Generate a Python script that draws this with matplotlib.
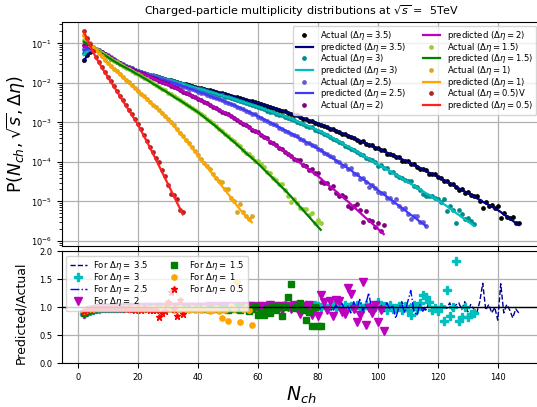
import numpy as np
import matplotlib
matplotlib.use('Agg')
import matplotlib.pyplot as plt

# ---------------- data (log10 of predicted probability, N_ch starting at 2) ----------------
n_start = 2
etas = [3.5, 3, 2.5, 2, 1.5, 1, 0.5]

pred_35 = [-1.46, -1.32, -1.24, -1.20, -1.19, -1.21, -1.25, -1.29, -1.34, -1.39, -1.44, -1.49, -1.53, -1.57, -1.60, -1.63, -1.66, -1.69, -1.71,
           -1.73, -1.76, -1.78, -1.80, -1.82, -1.84, -1.86, -1.88, -1.90, -1.92,
           -1.94, -1.96, -1.98, -2.00, -2.02, -2.04, -2.06, -2.08, -2.10, -2.12,
           -2.14, -2.16, -2.17, -2.19, -2.21, -2.23, -2.25, -2.27, -2.29, -2.31,
           -2.33, -2.35, -2.37, -2.39, -2.41, -2.43, -2.45, -2.47, -2.49, -2.51,
           -2.53, -2.56, -2.58, -2.61, -2.63, -2.65, -2.68, -2.70, -2.73, -2.75,
           -2.78, -2.81, -2.83, -2.86, -2.89, -2.92, -2.95, -2.97, -3.00, -3.03,
           -3.06, -3.09, -3.12, -3.15, -3.18, -3.21, -3.24, -3.27, -3.30, -3.33,
           -3.36, -3.40, -3.43, -3.46, -3.50, -3.53, -3.56, -3.59, -3.63, -3.66,
           -3.69, -3.73, -3.76, -3.80, -3.83, -3.86, -3.90, -3.93, -3.97, -4.00,
           -4.04, -4.08, -4.11, -4.15, -4.19, -4.23, -4.27, -4.30, -4.34, -4.38,
           -4.42, -4.46, -4.50, -4.54, -4.58, -4.63, -4.67, -4.71, -4.75, -4.79,
           -4.83, -4.88, -4.92, -4.96, -5.01, -5.05, -5.09, -5.13, -5.18, -5.22,
           -5.27, -5.33, -5.38, -5.44, -5.49, -5.55, -5.60]
pred_3 = [-1.30, -1.21, -1.16, -1.15, -1.16, -1.19, -1.23, -1.27, -1.32, -1.37, -1.42, -1.47, -1.51, -1.55, -1.58, -1.61, -1.64, -1.67, -1.70,
          -1.72, -1.75, -1.77, -1.79, -1.81, -1.83, -1.86, -1.88, -1.90, -1.92,
          -1.94, -1.96, -1.99, -2.01, -2.03, -2.05, -2.08, -2.10, -2.12, -2.14,
          -2.16, -2.18, -2.21, -2.23, -2.25, -2.27, -2.30, -2.32, -2.34, -2.36,
          -2.38, -2.41, -2.43, -2.46, -2.48, -2.51, -2.53, -2.56, -2.58, -2.61,
          -2.63, -2.66, -2.69, -2.71, -2.74, -2.77, -2.80, -2.82, -2.85, -2.88,
          -2.91, -2.94, -2.97, -3.00, -3.04, -3.07, -3.10, -3.13, -3.17, -3.20,
          -3.24, -3.28, -3.32, -3.36, -3.40, -3.44, -3.48, -3.52, -3.57, -3.61,
          -3.65, -3.70, -3.74, -3.79, -3.83, -3.88, -3.92, -3.97, -4.01, -4.06,
          -4.10, -4.15, -4.19, -4.24, -4.28, -4.33, -4.37, -4.42, -4.46, -4.51,
          -4.56, -4.60, -4.65, -4.69, -4.74, -4.79, -4.83, -4.88, -4.92, -4.97,
          -5.02, -5.07, -5.12, -5.18, -5.23, -5.29, -5.34, -5.40, -5.45, -5.51, -5.56, -5.62]
pred_25 = [-1.18, -1.14, -1.13, -1.14, -1.16, -1.19, -1.23, -1.27, -1.31, -1.36, -1.41, -1.46, -1.50, -1.54, -1.58, -1.61, -1.64, -1.67, -1.70,
           -1.73, -1.75, -1.78, -1.81, -1.83, -1.86, -1.88, -1.91, -1.93, -1.96,
           -1.98, -2.01, -2.03, -2.06, -2.09, -2.11, -2.14, -2.16, -2.19, -2.22,
           -2.25, -2.27, -2.30, -2.33, -2.36, -2.39, -2.41, -2.44, -2.47, -2.50,
           -2.53, -2.56, -2.60, -2.63, -2.66, -2.70, -2.73, -2.77, -2.80, -2.84,
           -2.88, -2.92, -2.96, -3.00, -3.04, -3.08, -3.12, -3.16, -3.20, -3.24,
           -3.28, -3.32, -3.36, -3.41, -3.45, -3.49, -3.53, -3.57, -3.62, -3.66,
           -3.71, -3.76, -3.81, -3.86, -3.91, -3.96, -4.01, -4.06, -4.11, -4.16,
           -4.21, -4.27, -4.32, -4.38, -4.43, -4.49, -4.54, -4.60, -4.65, -4.71,
           -4.77, -4.82, -4.88, -4.94, -4.99, -5.05, -5.11, -5.16, -5.22, -5.28,
           -5.34, -5.39, -5.45, -5.51, -5.56, -5.62]
pred_2 = [-1.09, -1.08, -1.09, -1.12, -1.16, -1.20, -1.24, -1.28, -1.33, -1.38, -1.42, -1.47, -1.51, -1.55, -1.59, -1.63, -1.66, -1.70, -1.73,
          -1.76, -1.79, -1.82, -1.85, -1.88, -1.91, -1.95, -1.98, -2.01, -2.04,
          -2.07, -2.11, -2.14, -2.18, -2.22, -2.25, -2.29, -2.33, -2.36, -2.40,
          -2.44, -2.48, -2.52, -2.56, -2.60, -2.64, -2.68, -2.72, -2.76, -2.80,
          -2.84, -2.89, -2.93, -2.98, -3.03, -3.07, -3.12, -3.17, -3.21, -3.26,
          -3.31, -3.37, -3.42, -3.48, -3.53, -3.58, -3.64, -3.69, -3.75, -3.80,
          -3.86, -3.91, -3.97, -4.02, -4.08, -4.13, -4.19, -4.25, -4.30, -4.36,
          -4.42, -4.49, -4.55, -4.62, -4.68, -4.74, -4.81, -4.87, -4.94, -5.00,
          -5.07, -5.14, -5.21, -5.28, -5.35, -5.42, -5.48, -5.55, -5.62, -5.69, -5.76, -5.83]
pred_15 = [-0.96, -1.00, -1.05, -1.10, -1.15, -1.20, -1.25, -1.30, -1.35, -1.40, -1.45, -1.49, -1.54, -1.58, -1.62, -1.66, -1.70, -1.75, -1.79,
           -1.83, -1.88, -1.92, -1.97, -2.02, -2.06, -2.11, -2.16, -2.20, -2.25,
           -2.30, -2.35, -2.40, -2.44, -2.49, -2.54, -2.59, -2.64, -2.69, -2.74,
           -2.80, -2.86, -2.92, -2.98, -3.04, -3.10, -3.17, -3.23, -3.30, -3.36,
           -3.43, -3.49, -3.56, -3.63, -3.70, -3.77, -3.84, -3.90, -3.97, -4.04,
           -4.11, -4.19, -4.26, -4.34, -4.41, -4.49, -4.56, -4.64, -4.71, -4.79,
           -4.87, -4.96, -5.04, -5.13, -5.21, -5.30, -5.38, -5.47, -5.55, -5.64, -5.72]
pred_1 = [-0.83, -0.92, -1.01, -1.10, -1.18, -1.26, -1.34, -1.42, -1.50, -1.58, -1.65, -1.72, -1.79, -1.86, -1.93, -2.00, -2.07, -2.14, -2.21,
          -2.28, -2.35, -2.42, -2.49, -2.56, -2.63, -2.70, -2.77, -2.85, -2.92,
          -3.00, -3.09, -3.18, -3.27, -3.36, -3.45, -3.54, -3.64, -3.74, -3.84,
          -3.94, -4.03, -4.13, -4.22, -4.32, -4.42, -4.51, -4.61, -4.70, -4.80,
          -4.90, -5.00, -5.10, -5.20, -5.29, -5.38, -5.46, -5.53]
pred_05 = [-0.71, -0.88, -1.04, -1.20, -1.35, -1.48, -1.61, -1.73, -1.85, -1.97, -2.09, -2.21, -2.33, -2.45, -2.57, -2.69, -2.81, -2.93, -3.05,
           -3.19, -3.34, -3.48, -3.63, -3.78, -3.93, -4.09, -4.24, -4.40, -4.55, -4.71, -4.86, -5.02, -5.17, -5.33]

# ratio predicted / actual (bottom panel), same N_ch grid
ratio_35 = [0.90, 0.93, 0.95, 0.96, 0.97, 0.97, 0.98, 0.98, 0.98,
            0.99, 0.98, 0.99, 0.99, 0.98, 0.99, 0.99, 1.00, 0.99, 0.99,
            0.99, 1.00, 0.99, 0.99, 1.00, 0.99, 1.00, 0.99, 1.00, 1.00,
            0.99, 1.00, 1.00, 0.99, 1.00, 1.00, 1.00, 0.99, 1.00, 1.00,
            1.00, 1.01, 1.00, 1.00, 0.99, 1.00, 1.01, 1.00, 1.00, 1.01,
            1.00, 1.01, 1.00, 1.00, 1.01, 1.00, 1.01, 1.00, 1.01, 1.00,
            1.01, 1.02, 1.00, 1.01, 1.03, 1.00, 1.02, 1.01, 0.99, 1.02,
            1.01, 1.03, 0.99, 1.02, 1.04, 1.00, 1.02, 0.98, 1.03, 1.01,
            1.04, 0.99, 1.02, 1.05, 0.98, 1.03, 1.00, 1.06, 0.97, 1.02,
            1.05, 0.98, 1.03, 1.07, 0.96, 1.02, 1.04, 0.97, 1.06, 1.00,
            1.03, 0.95, 1.08, 1.01, 0.97, 1.05, 0.94, 1.10, 1.00, 0.96,
            1.06, 0.93, 1.04, 1.09, 0.98, 0.95, 1.07, 1.02, 0.94, 1.00,
            0.95, 1.05, 0.98, 1.08, 0.93, 1.04, 1.08, 0.96, 1.10, 0.92,
            1.05, 0.97, 0.90, 1.10, 1.43, 0.95, 1.05, 0.90, 1.00, 0.77,
            1.42, 0.90, 1.05, 0.95, 0.81, 0.97, 0.90]
ratio_3 = [0.88, 0.92, 0.94, 0.96, 0.97, 0.97, 0.98, 0.98, 0.99,
           0.98, 0.99, 0.99, 0.98, 0.99, 1.00, 0.99, 0.99, 1.00, 0.99,
           1.00, 0.99, 1.00, 1.00, 0.99, 1.00, 1.00, 1.01, 1.00, 1.00,
           1.00, 1.01, 1.00, 1.01, 1.00, 1.00, 1.01, 1.00, 1.01, 1.01,
           1.00, 1.01, 1.02, 1.00, 1.01, 1.02, 1.01, 1.00, 1.02, 1.01,
           1.02, 1.01, 1.03, 1.00, 1.02, 1.01, 1.03, 1.02, 1.00, 1.03,
           1.02, 1.01, 1.03, 1.04, 1.00, 1.02, 1.03, 1.01, 1.04, 1.02,
           1.00, 1.03, 1.05, 1.01, 0.99, 1.04, 1.02, 1.00, 1.05, 1.02,
           1.01, 1.04, 0.99, 1.03, 1.05, 1.00, 1.02, 0.98, 1.04, 1.01,
           1.03, 0.99, 1.05, 1.02, 0.98, 1.04, 1.01, 0.97, 1.00, 1.10,
           0.98, 1.02, 0.95, 1.05, 0.97, 0.99, 1.03, 0.96, 1.02, 0.95,
           0.86, 1.04, 0.97, 1.08, 1.22, 1.18, 1.10, 0.95, 0.98, 0.94,
           1.00, 0.76, 1.31, 0.85, 1.00, 1.83, 0.75, 0.83, 1.01, 0.82, 0.88, 0.90]
ratio_25 = [0.92, 0.94, 0.96, 0.97, 0.97, 0.98, 0.98, 0.99, 0.99,
            0.99, 0.98, 0.99, 1.00, 0.99, 0.99, 1.00, 0.99, 1.00, 1.00,
            0.99, 1.00, 1.00, 1.00, 0.99, 1.00, 1.01, 1.00, 1.00, 1.01,
            1.00, 1.00, 1.01, 1.00, 1.01, 1.00, 1.01, 1.01, 1.00, 1.01,
            1.02, 1.00, 1.01, 1.02, 1.01, 1.00, 1.02, 1.01, 1.03, 1.00,
            1.02, 1.01, 1.03, 1.00, 1.02, 1.04, 1.01, 1.02, 1.00, 1.03,
            1.01, 1.04, 1.00, 1.03, 1.02, 0.99, 1.04, 1.01, 1.03, 0.99,
            1.05, 1.01, 0.98, 1.04, 1.02, 1.06, 0.99, 1.03, 0.97, 1.02,
            0.96, 1.05, 0.97, 1.00, 0.93, 1.04, 0.98, 1.08, 0.95, 1.02,
            0.90, 1.10, 0.97, 1.14, 0.93, 1.05, 1.26, 0.95, 1.00, 1.12,
            1.05, 0.92, 1.08, 0.97, 1.04, 0.80, 1.00, 1.06, 0.90, 1.10,
            1.30, 0.95, 0.85, 1.05, 0.93, 1.00]
ratio_2 = [0.88, 0.92, 0.95, 0.96, 0.97, 0.98, 0.98, 0.98, 0.99,
           0.99, 0.99, 0.98, 0.99, 0.99, 1.00, 0.99, 0.99, 1.00, 0.99,
           1.00, 0.99, 1.00, 1.00, 0.99, 1.00, 1.00, 1.00, 0.99, 1.00,
           1.00, 1.01, 1.00, 1.00, 1.01, 1.00, 1.00, 1.01, 1.00, 1.01,
           1.00, 1.01, 1.00, 1.02, 1.00, 1.01, 1.00, 1.02, 1.01, 1.00,
           1.02, 1.00, 1.01, 1.03, 1.00, 1.02, 0.99, 1.03, 1.01, 0.98,
           1.03, 1.00, 0.97, 1.04, 1.01, 0.98, 1.03, 0.96, 1.02, 1.00,
           0.97, 1.04, 0.99, 0.88, 1.02, 0.96, 1.05, 0.86, 0.97, 0.85,
           1.22, 1.10, 0.96, 1.12, 0.84, 1.13, 1.11, 0.92, 0.88, 1.34,
           1.23, 0.97, 0.74, 0.87, 1.45, 0.68, 0.98, 0.90, 1.05, 0.73, 0.95, 0.58]
ratio_15 = [0.90, 0.94, 0.96, 0.97, 0.98, 0.98, 0.99, 0.98, 0.99,
            0.99, 0.98, 0.99, 0.99, 0.98, 0.99, 0.99, 0.98, 0.99, 0.99,
            0.98, 0.99, 0.99, 0.98, 0.99, 0.98, 0.99, 0.99, 0.98, 0.99,
            0.98, 0.99, 0.98, 0.99, 0.98, 0.99, 0.98, 0.98, 0.99, 0.98,
            0.99, 0.97, 0.98, 0.99, 0.97, 0.98, 0.99, 0.97, 0.98, 0.96,
            0.99, 0.97, 1.00, 0.95, 0.98, 1.01, 0.94, 0.97, 1.02, 0.86,
            0.90, 0.87, 0.98, 0.90, 1.02, 0.95, 1.03, 0.85, 1.00, 1.19,
            1.42, 0.98, 1.03, 1.07, 0.95, 0.77, 0.92, 0.67, 1.00, 0.67, 0.66]
ratio_1 = [0.93, 0.95, 0.97, 0.97, 0.98, 0.98, 0.98, 0.99, 0.98,
           0.98, 0.99, 0.98, 0.98, 0.99, 0.98, 0.97, 0.98, 0.98, 0.97,
           0.98, 0.97, 0.98, 0.97, 0.98, 0.97, 0.97, 0.98, 0.96, 0.97,
           0.98, 0.96, 0.97, 0.98, 0.96, 0.97, 0.95, 0.98, 0.96, 0.97,
           0.95, 0.98, 0.96, 0.94, 0.95, 0.98, 0.93, 0.81, 0.96, 0.76,
           1.02, 0.97, 1.46, 0.74, 0.97, 1.00, 0.95, 0.69]
ratio_05 = [0.93, 0.96, 0.97, 0.98, 0.98, 0.99, 0.99, 0.98, 0.99,
            0.99, 0.98, 0.99, 0.98, 0.99, 0.97, 0.98, 0.97, 0.96, 0.98,
            0.96, 0.98, 0.97, 0.96, 0.95, 0.96, 0.83, 0.90, 0.93, 1.09,
            1.28, 0.97, 0.85, 1.13, 0.88]

preds = [pred_35, pred_3, pred_25, pred_2, pred_15, pred_1, pred_05]
ratios = [ratio_35, ratio_3, ratio_25, ratio_2, ratio_15, ratio_1, ratio_05]

# ---------------- styles ----------------
act_colors = ['black', 'darkcyan', 'slateblue', 'purple', 'yellowgreen', 'goldenrod', 'firebrick']
pred_colors = ['navy', 'c', '#3a3aff', 'm', 'g', 'orange', '#ff2020']
r_styles = [dict(ls='--', color='darkblue', lw=1.0),
            dict(ls='none', marker='P', color='c', ms=5.5),
            dict(ls='-.', color='b', lw=1.0),
            dict(ls='none', marker='v', color='m', ms=5.5),
            dict(ls='none', marker='s', color='g', ms=3.8),
            dict(ls='none', marker='o', color='orange', ms=3.8),
            dict(ls='none', marker='*', color='r', ms=4.5)]

fig = plt.figure(figsize=(5.37, 4.07), dpi=100)
W, H = 537.0, 407.0
ax1 = fig.add_axes([62 / W, 1 - 246 / H, 478.5 / W, (246 - 21.7) / H])
ax2 = fig.add_axes([62 / W, 1 - 363.3 / H, 478.5 / W, (363.3 - 251.3) / H])

def eta_txt(e):
    return ('%g' % e)

for i, e in enumerate(etas):
    p = 10 ** np.array(preds[i])
    r = np.array(ratios[i])
    n = min(len(p), len(r))
    N = np.arange(n_start, n_start + n)
    p = p[:n]
    r = r[:n]
    actual = p / r
    act_label = r'Actual ($\Delta\eta = %s$)' % eta_txt(e)
    if e == 0.5:
        act_label += 'V'
    ax1.plot(N, actual, 'o', ms=2.4, color=act_colors[i], ls='none', label=act_label)
    ax1.plot(N, p, '-', lw=1.6, color=pred_colors[i], label=r'predicted ($\Delta\eta = %s$)' % eta_txt(e))
    ax2.plot(N, r, label=r'For $\Delta\eta =$ %s' % eta_txt(e), **r_styles[i])

ax1.set_yscale('log')
ax1.set_ylim(10 ** -6.13, 10 ** -0.453)
ax1.set_xlim(-5.25, 154.25)
ax2.set_xlim(-5.25, 154.25)
ax2.set_ylim(0, 2)
ax2.set_yticks([0, 0.5, 1.0, 1.5, 2.0])
ax2.axhline(1.0, color='k', lw=1.0)

for ax in (ax1, ax2):
    ax.grid(True, color='#b0b0b0', lw=0.9)
    ax.set_axisbelow(True)
    ax.tick_params(labelsize=6)
ax1.tick_params(labelbottom=False)
ax2.set_xticks([0, 20, 40, 60, 80, 100, 120, 140])
ax1.set_xticks([0, 20, 40, 60, 80, 100, 120, 140])

ax1.set_title(r'Charged-particle multiplicity distributions at $\sqrt{s}$ =  5TeV', fontsize=8, pad=5)
ax1.set_ylabel(r'P($N_{ch}, \sqrt{s}, \Delta\eta$)', fontsize=12.5)
ax1.yaxis.set_label_coords(-0.072, 0.5)
ax2.set_ylabel('Predicted/Actual', fontsize=9)
ax2.yaxis.set_label_coords(-0.072, 0.45)
ax2.set_xlabel(r'$N_{ch}$', fontsize=13.5, labelpad=2)

ax1.legend(loc='upper right', ncol=2, fontsize=6.1, borderaxespad=0.5,
           labelspacing=-0.17, handletextpad=0.8, columnspacing=2.0, borderpad=0.4)
ax2.legend(loc='upper left', ncol=2, fontsize=6.1, labelspacing=-0.12,
           handletextpad=0.8, columnspacing=2.0, borderpad=0.4)

fig.savefig('out.png', dpi=100)
